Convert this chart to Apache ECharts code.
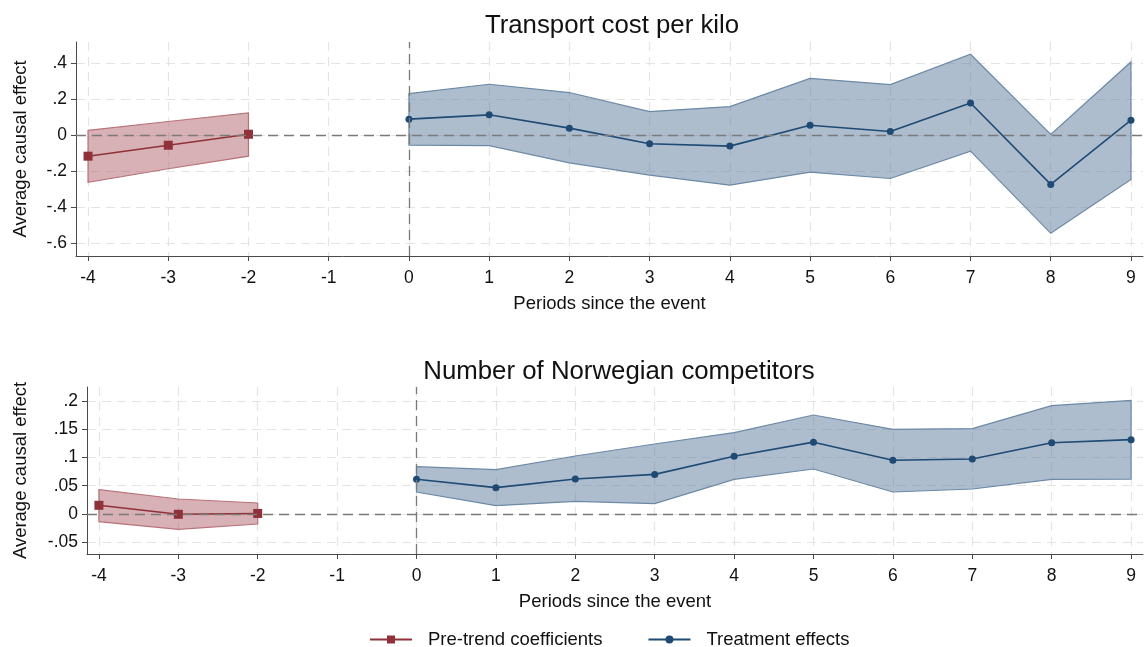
<!DOCTYPE html>
<html>
<head>
<meta charset="utf-8">
<script src="https://cdn.jsdelivr.net/npm/echarts@6/dist/echarts.min.js"></script>
<style>
  html, body { margin: 0; padding: 0; background: #fff; }
  #chart { width: 1145px; height: 647px; }
</style>
</head>
<body>
<div id="chart"></div>
<script>
// Event-study estimates: point estimates with 95% confidence bands
const periodsPre = [-4, -3, -2];
const periodsPost = [0, 1, 2, 3, 4, 5, 6, 7, 8, 9];
const xTicks = [-4, -3, -2, -1, 0, 1, 2, 3, 4, 5, 6, 7, 8, 9];

// Panel 1: Transport cost per kilo
const costPre = [-0.115, -0.054, 0.007];
const costPreLo = [-0.260, -0.185, -0.115];
const costPreHi = [0.029, 0.078, 0.126];
const costPost = [0.091, 0.115, 0.041, -0.046, -0.059, 0.057, 0.022, 0.181, -0.272, 0.085];
const costPostLo = [-0.054, -0.056, -0.152, -0.220, -0.276, -0.204, -0.239, -0.087, -0.544, -0.244];
const costPostHi = [0.233, 0.285, 0.239, 0.133, 0.161, 0.318, 0.283, 0.452, 0.006, 0.409];
const costTicks = [-0.6, -0.4, -0.2, 0, 0.2, 0.4];

// Panel 2: Number of Norwegian competitors
const compPre = [0.0154, -0.0005, 0.001];
const compPreLo = [-0.0134, -0.027, -0.0177];
const compPreHi = [0.043, 0.0265, 0.0195];
const compPost = [0.0613, 0.0466, 0.0618, 0.070, 0.102, 0.127, 0.0949, 0.0972, 0.126, 0.1314];
const compPostLo = [0.0389, 0.0148, 0.0224, 0.0183, 0.0613, 0.0795, 0.0389, 0.0442, 0.0613, 0.0618];
const compPostHi = [0.0837, 0.0784, 0.1025, 0.1237, 0.144, 0.175, 0.1497, 0.151, 0.1915, 0.201];
const compTicks = [-0.05, 0, 0.05, 0.1, 0.15, 0.2];

const FONT = '"Liberation Sans", Arial, sans-serif';
const RED = '#903038', RED_FILL = 'rgba(172, 92, 100, 0.48)', RED_EDGE = '#b8727a';
const BLUE = '#1f4a74', BLUE_FILL = 'rgba(98, 128, 160, 0.52)', BLUE_EDGE = '#6c89a6';
const GRIDLINE = '#e4e4e4', REFLINE = '#7a7a7a', AXIS = '#4a4a4a';
const TICK_FS = 17.5, NAME_FS = 18.5, TITLE_FS = 25.8;

const fmtY = v => v === 0 ? '0' : String(v).replace('0.', '.');

function xAxisFor(gridIndex) {
  return {
    type: 'value', gridIndex, min: -4.15, max: 9.15,
    name: 'Periods since the event', nameLocation: 'middle', nameGap: 38,
    nameTextStyle: { fontFamily: FONT, fontSize: NAME_FS, color: '#111' },
    axisLine: { show: true, onZero: false, lineStyle: { color: AXIS, width: 1 } },
    axisTick: { show: true, length: 5, customValues: xTicks, lineStyle: { color: AXIS } },
    axisLabel: { customValues: xTicks, fontFamily: FONT, fontSize: TICK_FS, color: '#111', margin: 13,
                 formatter: v => String(v) },
    splitLine: { show: true, lineStyle: { color: GRIDLINE, type: [9, 6], width: 1.2 } }
  };
}

function yAxisFor(gridIndex, min, max, ticks, gap) {
  return {
    type: 'value', gridIndex, min, max,
    name: 'Average causal effect', nameLocation: 'middle', nameGap: gap, nameRotate: 90,
    nameTextStyle: { fontFamily: FONT, fontSize: NAME_FS, color: '#111' },
    axisLine: { show: true, onZero: false, lineStyle: { color: AXIS, width: 1 } },
    axisTick: { show: true, length: 5, customValues: ticks, lineStyle: { color: AXIS } },
    axisLabel: { customValues: ticks, fontFamily: FONT, fontSize: TICK_FS, color: '#111', margin: 9,
                 formatter: fmtY },
    splitLine: { show: true, lineStyle: { color: GRIDLINE, type: [9, 6], width: 1.2 } }
  };
}

// Confidence band drawn as a single polygon through the axis scales
function band(axisIdx, xs, lo, hi, fill, edge, z) {
  return {
    type: 'custom', xAxisIndex: axisIdx, yAxisIndex: axisIdx, silent: true, z,
    data: [[xs[0], lo[0]]],
    renderItem: (params, api) => {
      const pts = [];
      for (let i = 0; i < xs.length; i++) pts.push(api.coord([xs[i], hi[i]]));
      for (let i = xs.length - 1; i >= 0; i--) pts.push(api.coord([xs[i], lo[i]]));
      return {
        type: 'polygon', shape: { points: pts },
        style: { fill, stroke: edge, lineWidth: 1.2 }
      };
    }
  };
}

function pointLine(axisIdx, name, xs, ys, color, symbol, size, z) {
  return {
    type: 'line', name, xAxisIndex: axisIdx, yAxisIndex: axisIdx, z,
    data: xs.map((x, i) => [x, ys[i]]),
    symbol, symbolSize: size, showSymbol: true,
    lineStyle: { color, width: 1.6 }, itemStyle: { color },
    emphasis: { disabled: true }
  };
}

function refLines(axisIdx) {
  return {
    type: 'line', xAxisIndex: axisIdx, yAxisIndex: axisIdx, data: [], silent: true, z: 1,
    markLine: {
      silent: true, symbol: 'none', label: { show: false },
      lineStyle: { color: REFLINE, type: [10, 6], width: 1.3 },
      data: [{ yAxis: 0 }, { xAxis: 0 }]
    }
  };
}

const chart = echarts.init(document.getElementById('chart'), null, { renderer: 'canvas' });
chart.setOption({
  backgroundColor: '#fff',
  animation: false,
  title: [
    { text: 'Transport cost per kilo', left: 607, top: 8, textAlign: 'center',
      textStyle: { fontFamily: FONT, fontSize: TITLE_FS, fontWeight: 'normal', color: '#111' } },
    { text: 'Number of Norwegian competitors', left: 614, top: 354, textAlign: 'center',
      textStyle: { fontFamily: FONT, fontSize: TITLE_FS, fontWeight: 'normal', color: '#111' } }
  ],
  legend: {
    top: 625, left: 364, itemWidth: 42, itemHeight: 10, itemGap: 45,
    textStyle: { fontFamily: FONT, fontSize: NAME_FS, color: '#111', padding: [0, 0, 0, 11] },
    data: ['Pre-trend coefficients', 'Treatment effects']
  },
  grid: [
    { left: 76, right: 2, top: 42, height: 214 },
    { left: 87, right: 2, top: 387, height: 167 }
  ],
  xAxis: [xAxisFor(0), xAxisFor(1)],
  yAxis: [
    yAxisFor(0, -0.67, 0.52, costTicks, 46),
    yAxisFor(1, -0.0707, 0.2245, compTicks, 57)
  ],
  series: [
    refLines(0),
    band(0, periodsPre, costPreLo, costPreHi, RED_FILL, RED_EDGE, 2),
    band(0, periodsPost, costPostLo, costPostHi, BLUE_FILL, BLUE_EDGE, 2),
    pointLine(0, 'Pre-trend coefficients', periodsPre, costPre, RED, 'rect', 9, 4),
    pointLine(0, 'Treatment effects', periodsPost, costPost, BLUE, 'circle', 7, 4),
    refLines(1),
    band(1, periodsPre, compPreLo, compPreHi, RED_FILL, RED_EDGE, 2),
    band(1, periodsPost, compPostLo, compPostHi, BLUE_FILL, BLUE_EDGE, 2),
    pointLine(1, 'Pre-trend coefficients', periodsPre, compPre, RED, 'rect', 9, 4),
    pointLine(1, 'Treatment effects', periodsPost, compPost, BLUE, 'circle', 7, 4)
  ]
});
</script>
</body>
</html>
